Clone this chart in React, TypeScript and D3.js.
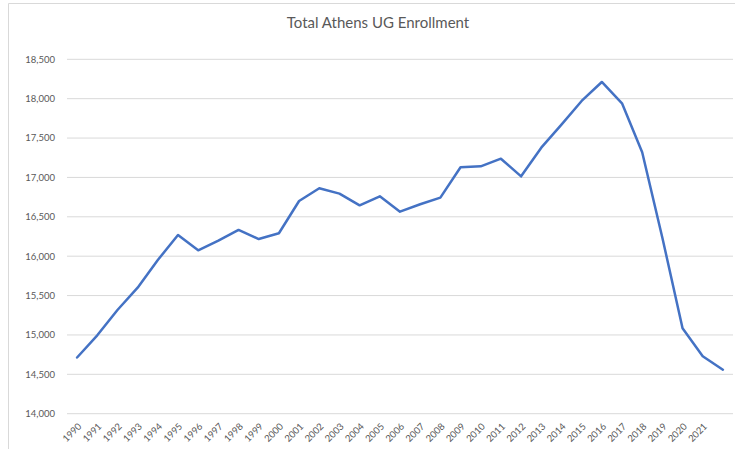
import React from "react";
import * as d3 from "d3";

const years: string[] = [
  "1990","1991","1992","1993","1994","1995","1996","1997","1998","1999",
  "2000","2001","2002","2003","2004","2005","2006","2007","2008","2009",
  "2010","2011","2012","2013","2014","2015","2016","2017","2018","2019",
  "2020","2021","2022",
];
const tickLabels: string[] = [
  "1990","1991","1992","1993","1994","1995","1996","1997","1998","1999",
  "2000","2001","2002","2003","2004","2005","2006","2007","2008","2009",
  "2010","2011","2012","2013","2014","2015","2016","2017","2018","2019",
  "2020","2021","",
];
const enrollment: number[] = [
  14714, 14995, 15317, 15600, 15952, 16268, 16075, 16197, 16333, 16218,
  16291, 16701, 16862, 16794, 16646, 16760, 16565, 16659, 16743, 17129,
  17141, 17238, 17014, 17378, 17670, 17971, 18212, 17941, 17319, 16235,
  15084, 14729, 14559,
];
const yTicks: number[] = [14000, 14500, 15000, 15500, 16000, 16500, 17000, 17500, 18000, 18500];

const W = 735;
const H = 449;
const FONT = "Lato, 'Open Sans', sans-serif";

export default function App() {
  const left = 67;
  const right = 733;
  const top = 59.3;
  const bottom = 413.7;
  const x = d3.scaleBand<string>().domain(years).range([left, right]).padding(0);
  const y = d3.scaleLinear().domain([14000, 18500]).range([bottom, top]);
  const cx = (d: string) => (x(d) as number) + x.bandwidth() / 2;
  const line = d3
    .line<number>()
    .x((_, i) => cx(years[i]))
    .y((d) => y(d));
  const fmt = d3.format(",");

  return (
    <svg
      width={W}
      height={H}
      style={{ position: "absolute", left: 0, top: 0, background: "#fff" }}
      fontFamily={FONT}
    >
      <rect x={0} y={0} width={W} height={H} fill="#fff" />
      <line x1={8.5} y1={3.5} x2={8.5} y2={H} stroke="#d9d9d9" strokeWidth={1} />
      <line x1={8.5} y1={3.5} x2={W} y2={3.5} stroke="#d9d9d9" strokeWidth={1} />
      <text x={378} y={28} textAnchor="middle" fontSize={15} fill="#595959">
        Total Athens UG Enrollment
      </text>
      {yTicks.map((t) => (
        <g key={t}>
          <line x1={left} x2={right} y1={y(t)} y2={y(t)} stroke="#d9d9d9" strokeWidth={1} />
          <text x={55} y={y(t)} dy="0.35em" textAnchor="end" fontSize={9.5} fill="#595959">
            {fmt(t)}
          </text>
        </g>
      ))}
      {years.map((yr, i) => (
        <text
          key={yr}
          transform={`translate(${cx(yr) + 5},${427}) rotate(-45)`}
          textAnchor="end"
          fontSize={9.5}
          fill="#595959"
        >
          {tickLabels[i]}
        </text>
      ))}
      <path
        d={line(enrollment) || ""}
        fill="none"
        stroke="#4472c4"
        strokeWidth={2.5}
        strokeLinejoin="round"
        strokeLinecap="round"
      />
    </svg>
  );
}
